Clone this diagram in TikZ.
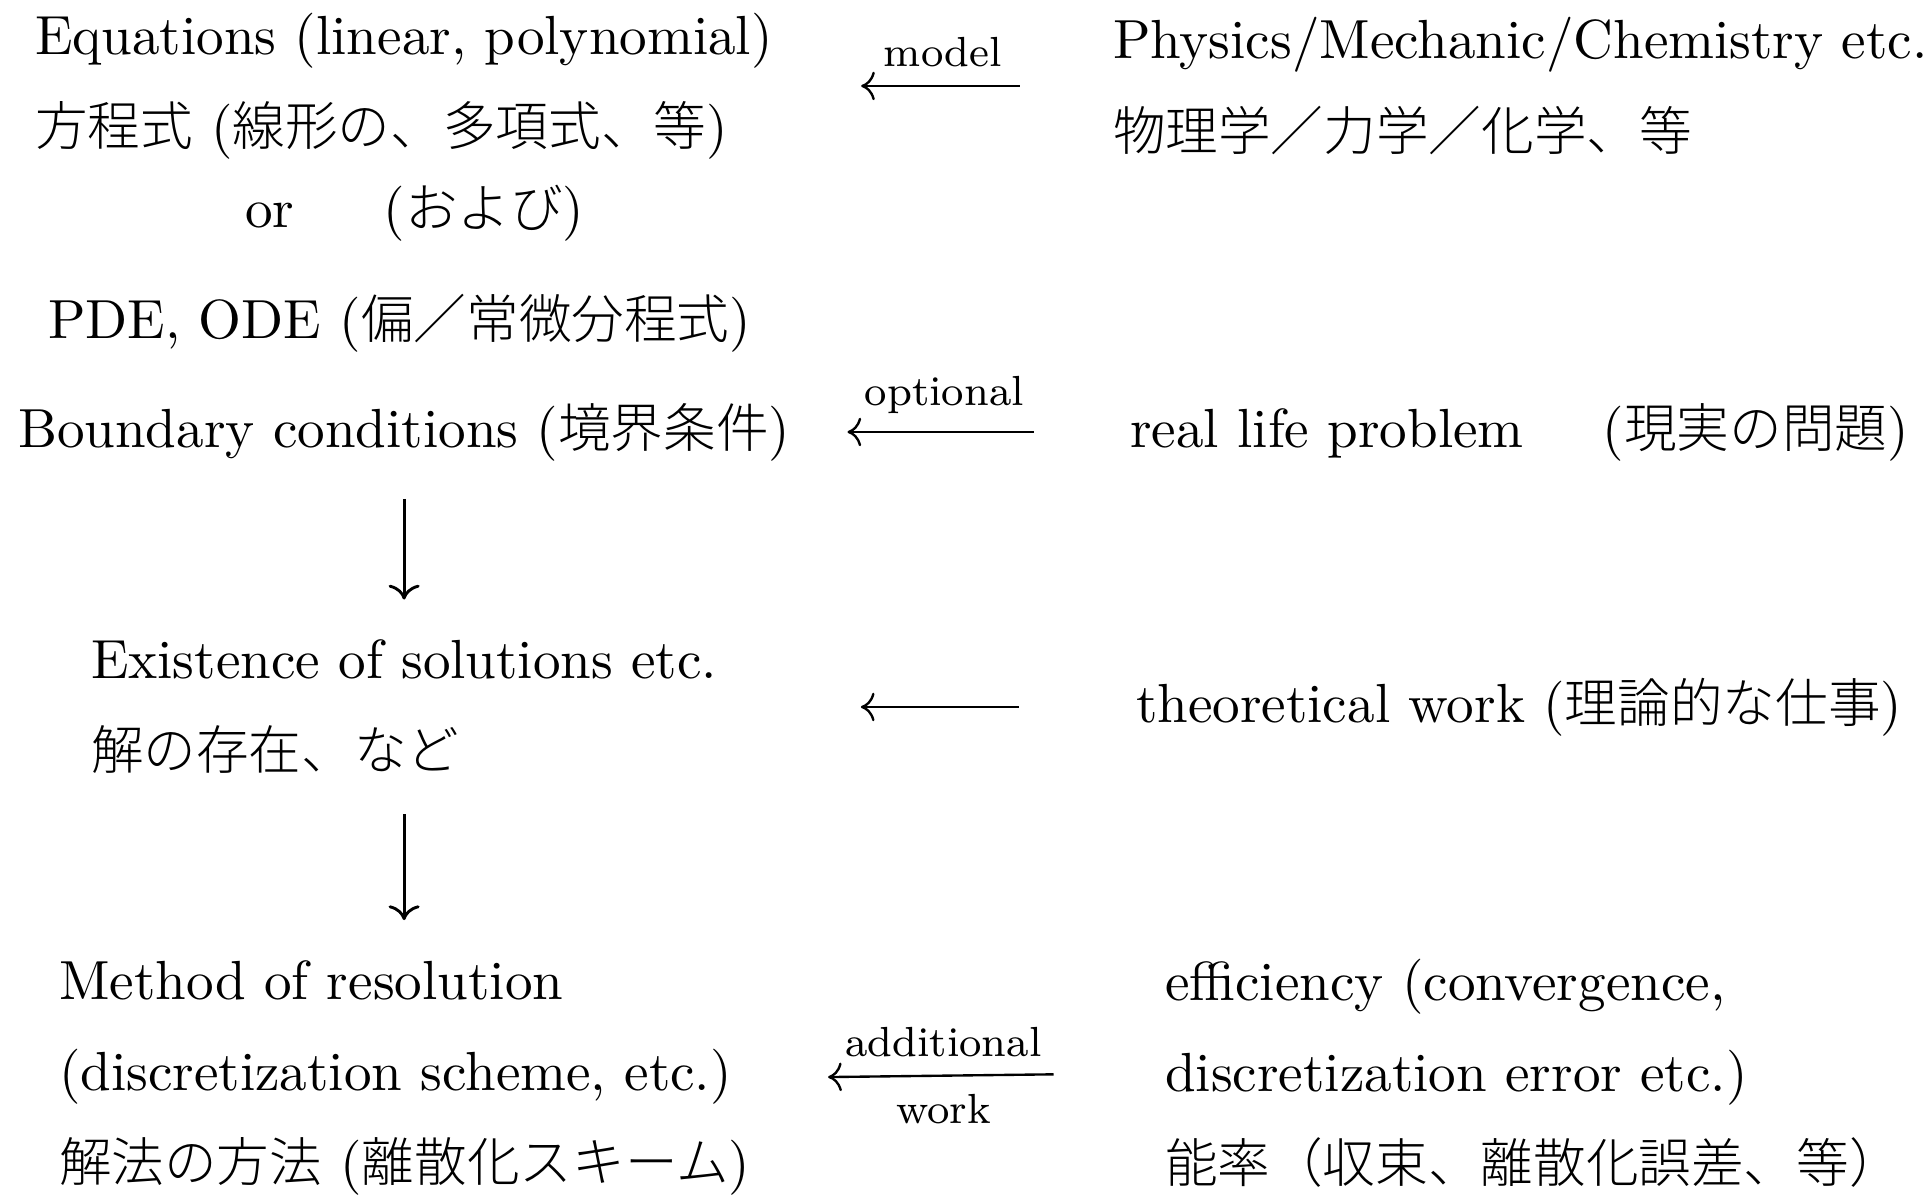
\documentclass[tikz,border=0pt]{standalone}
\usepackage{fontspec}
\newfontfamily\jpfont{Noto Sans CJK JP}[Scale=0.955,UprightFont=* Light]
\usepackage{tikz}
\usetikzlibrary{arrows.meta}
\newcommand{\ja}[1]{{\jpfont #1}}

\begin{document}
\begin{tikzpicture}[x=0.19pt, y=-0.19pt, >=To, font=\fontsize{10.47}{17.3}\selectfont,
    txt/.style={anchor=west,align=left,inner sep=0pt},
    lbl/.style={font=\footnotesize},
    link/.style={<-,line width=0.45pt},
    down/.style={->,line width=0.55pt}]
  \useasboundingbox (0,0) rectangle (1931,1195);
  % left column
  \node[txt] (eqn) at (34,86) {Equations (linear, polynomial)\\\ja{方程式} (\ja{線形の、多項式、等})};
  \node[txt] (orj) at (244,213) {or\hspace{17pt}(\ja{および})};
  \node[txt] (pde) at (47,323) {PDE, ODE (\ja{偏／常微分程式})};
  \node[txt] (bc) at (17,432) {Boundary conditions (\ja{境界条件})};
  \node[txt] (ex) at (90,707) {Existence of solutions etc.\\\ja{解の存在、など}};
  \node[txt] (meth) at (58,1078) {Method of resolution\\(discretization scheme, etc.)\\\ja{解法の方法} (\ja{離散化スキーム})};
  % right column
  \node[txt] (phys) at (1112,86) {Physics/Mechanic/Chemistry etc.\\\ja{物理学／力学／化学、等}};
  \node[txt] (rlp) at (1129,432) {real life problem\hspace{15pt}(\ja{現実の問題})};
  \node[txt] (tw) at (1135,707) {theoretical work (\ja{理論的な仕事})};
  \node[txt] (eff) at (1164,1073) {efficiency (convergence,\\discretization error etc.)\\\ja{能率（収束、離散化誤差、等）}};
  % arrows
  \draw[link,shorten <=16.6pt,shorten >=17.5pt] (eqn.east) -- node[lbl,above] {model} (phys.west);
  \draw[link,shorten <=10.7pt,shorten >=18pt] (bc.east) -- node[lbl,above,xshift=-3pt] {optional} (rlp.west);
  \draw[link,shorten <=27.1pt,shorten >=22pt] (ex.east) -- (tw.west);
  \draw[link,shorten <=14.6pt,shorten >=21pt] (meth.east) -- node[lbl,above,xshift=-2.7pt] {additional} node[lbl,below,xshift=-2.7pt] {work} (eff.west);
  \draw[down,shorten <=7pt,shorten >=7.5pt] (bc.south) -- (bc.south |- ex.north);
  \draw[down,shorten <=7.5pt,shorten >=7.5pt] (ex.south -| bc.south) -- (bc.south |- meth.north);
\end{tikzpicture}
\end{document}
